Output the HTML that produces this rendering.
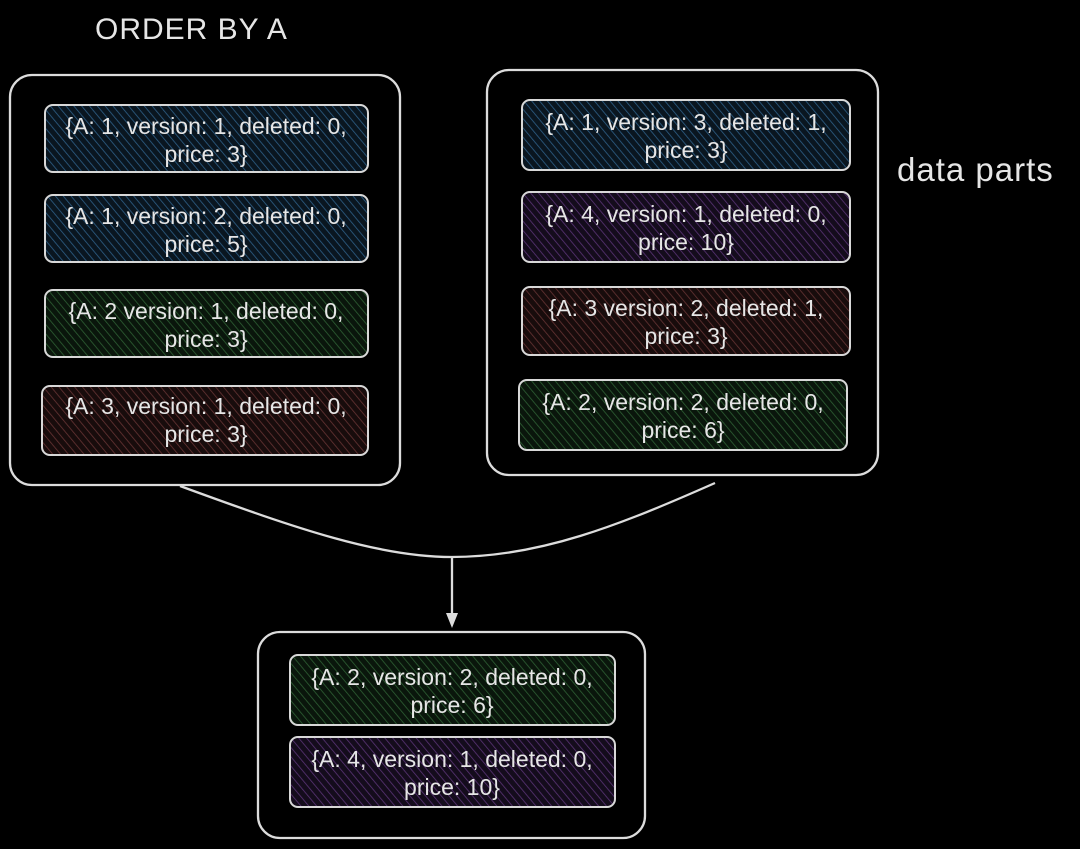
<!DOCTYPE html>
<html><head><meta charset="utf-8"><style>
html,body{margin:0;padding:0;background:#000;}
svg{display:block}
text{font-family:"Liberation Sans",sans-serif;fill:#e6e6e6;}
</style></head><body>
<svg width="1080" height="849" viewBox="0 0 1080 849" xmlns="http://www.w3.org/2000/svg">
<defs>
<pattern id="hb" width="6" height="6" patternUnits="userSpaceOnUse" patternTransform="rotate(-40)"><rect width="6" height="6" fill="#0a1620"/><line x1="0" y1="0" x2="0" y2="6" stroke="#2e6088" stroke-width="1.6"/></pattern>
<pattern id="hg" width="6" height="6" patternUnits="userSpaceOnUse" patternTransform="rotate(-40)"><rect width="6" height="6" fill="#0a160c"/><line x1="0" y1="0" x2="0" y2="6" stroke="#2e6034" stroke-width="1.6"/></pattern>
<pattern id="hp" width="6" height="6" patternUnits="userSpaceOnUse" patternTransform="rotate(-40)"><rect width="6" height="6" fill="#140c1c"/><line x1="0" y1="0" x2="0" y2="6" stroke="#5a3476" stroke-width="1.6"/></pattern>
<pattern id="hr" width="6" height="6" patternUnits="userSpaceOnUse" patternTransform="rotate(-40)"><rect width="6" height="6" fill="#180c0c"/><line x1="0" y1="0" x2="0" y2="6" stroke="#663434" stroke-width="1.6"/></pattern>
</defs>
<text x="95" y="39" font-size="30" letter-spacing="1">ORDER BY A</text>
<text x="897" y="181" font-size="33" letter-spacing="1">data parts</text>

<g fill="none" stroke="#dcdcdc" stroke-width="2.3">
<rect x="10" y="75" width="390" height="410" rx="22"/>
<rect x="487" y="70" width="391" height="405" rx="22"/>
<rect x="258" y="632" width="387" height="206" rx="22"/>
<path d="M180 486 C 300 530, 380 557, 452 557 C 540 557, 620 525, 715 483"/>
<line x1="452" y1="557" x2="452" y2="614"/>
</g>
<polygon points="446,613 458,613 452,628" fill="#dcdcdc"/>

<g stroke="#d8d8d8" stroke-width="2">
<rect x="45" y="105" width="323" height="67" rx="8" fill="url(#hb)"/>
<rect x="45" y="195" width="323" height="67" rx="8" fill="url(#hb)"/>
<rect x="45" y="290" width="323" height="67" rx="8" fill="url(#hg)"/>
<rect x="42" y="386" width="326" height="69" rx="8" fill="url(#hr)"/>
<rect x="522" y="100" width="328" height="70" rx="8" fill="url(#hb)"/>
<rect x="522" y="192" width="328" height="70" rx="8" fill="url(#hp)"/>
<rect x="522" y="287" width="328" height="68" rx="8" fill="url(#hr)"/>
<rect x="519" y="380" width="328" height="70" rx="8" fill="url(#hg)"/>
<rect x="290" y="655" width="325" height="70" rx="8" fill="url(#hg)"/>
<rect x="290" y="737" width="325" height="70" rx="8" fill="url(#hp)"/>
</g>

<g font-size="23" text-anchor="middle">
<text x="206" y="134">{A: 1, version: 1, deleted: 0,</text><text x="206" y="162">price: 3}</text>
<text x="206" y="224">{A: 1, version: 2, deleted: 0,</text><text x="206" y="252">price: 5}</text>
<text x="206" y="319">{A: 2 version: 1, deleted: 0,</text><text x="206" y="347">price: 3}</text>
<text x="206" y="414">{A: 3, version: 1, deleted: 0,</text><text x="206" y="442">price: 3}</text>
<text x="686" y="130">{A: 1, version: 3, deleted: 1,</text><text x="686" y="158">price: 3}</text>
<text x="686" y="222">{A: 4, version: 1, deleted: 0,</text><text x="686" y="250">price: 10}</text>
<text x="686" y="316">{A: 3 version: 2, deleted: 1,</text><text x="686" y="344">price: 3}</text>
<text x="683" y="410">{A: 2, version: 2, deleted: 0,</text><text x="683" y="438">price: 6}</text>
<text x="452" y="685">{A: 2, version: 2, deleted: 0,</text><text x="452" y="713">price: 6}</text>
<text x="452" y="767">{A: 4, version: 1, deleted: 0,</text><text x="452" y="795">price: 10}</text>
</g>
</svg>
</body></html>
